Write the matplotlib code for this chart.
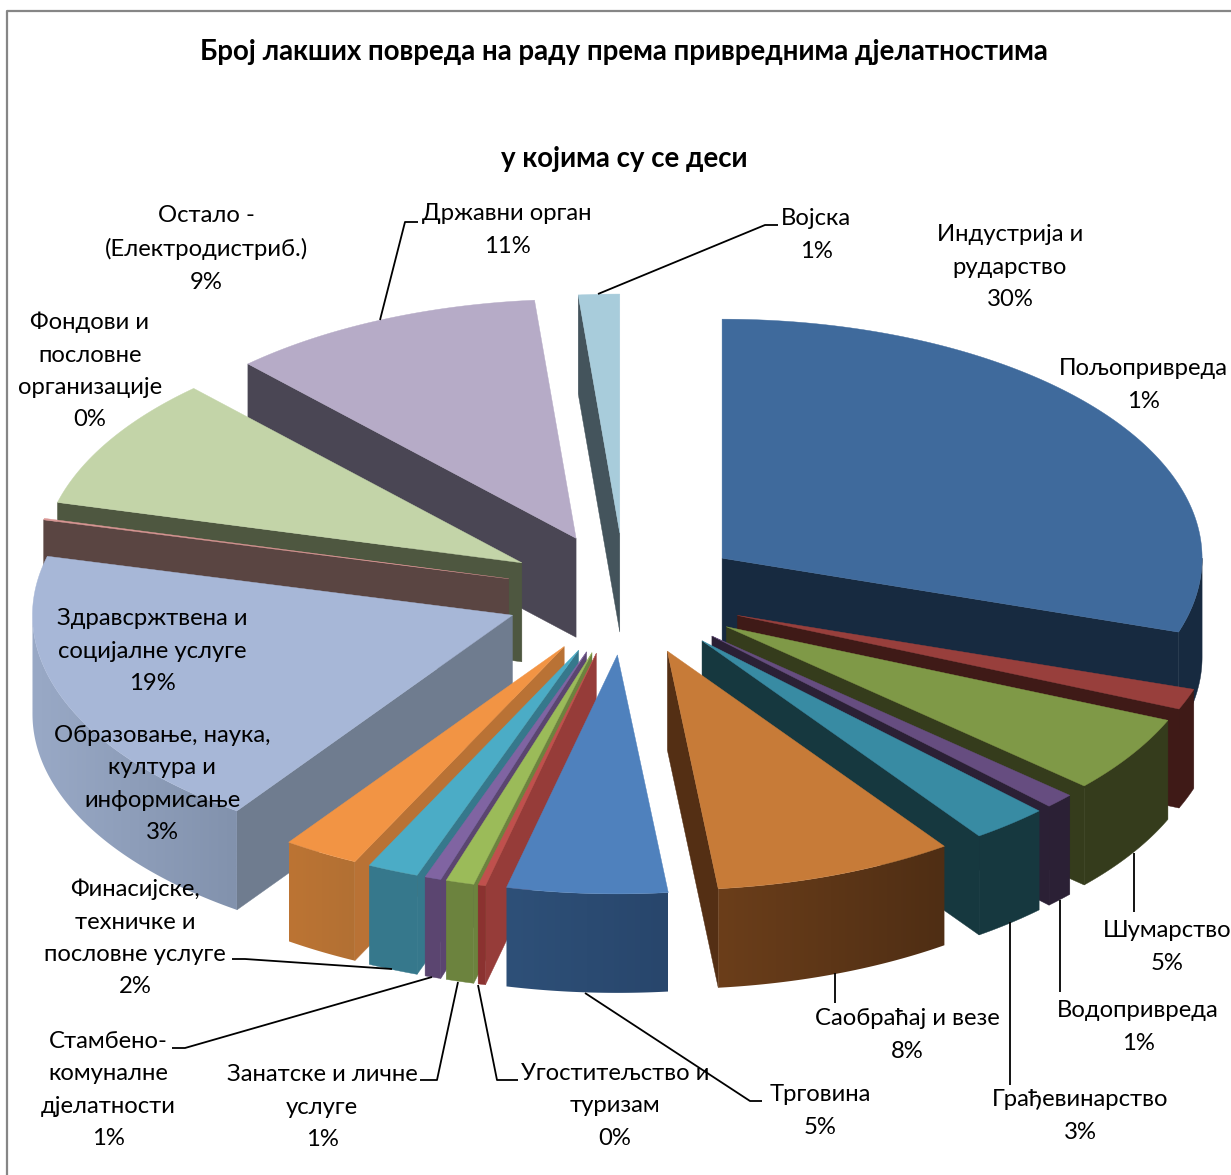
import numpy as np
import matplotlib
matplotlib.use('Agg')
import matplotlib.pyplot as plt
from matplotlib.patches import Polygon
from matplotlib.colors import to_rgb

plt.rcParams['font.family'] = ['Lato', 'Noto Sans', 'DejaVu Sans']

title_lines = ['Број лакших повреда на раду према привреднима дјелатностима',
               'у којима су се деси']

names = ['Индустрија', 'Пољопривреда', 'Шумарство', 'Водопривреда', 'Грађевинарство',
         'Саобраћај', 'Трговина', 'Угоститељство', 'Занатске', 'Стамбено', 'Финасијске',
         'Образовање', 'Здравство', 'Фондови', 'Остало', 'Државни орган', 'Војска']
shares = [30.0, 1.4, 5.2, 1.0, 2.6, 8.1, 5.4, 0.25, 0.95, 0.55, 1.72, 2.55, 19.23, 0.1, 8.95, 10.6, 1.38]

label_texts = ['Индустрија и\nрударство\n30%', 'Пољопривреда\n1%', 'Шумарство\n5%',
               'Водопривреда\n1%', 'Грађевинарство\n3%', 'Саобраћај и везе\n8%', 'Трговина\n5%',
               'Угоститељство и\nтуризам\n0%', 'Занатске и личне\nуслуге\n1%',
               'Стамбено-\nкомуналне\nдјелатности\n1%',
               'Финасијске,\nтехничке и\nпословне услуге\n2%',
               'Образовање, наука,\nкултура и\nинформисање\n3%',
               'Здравсржтвена и\nсоцијалне услуге\n19%',
               'Фондови и\nпословне\nорганизације\n0%',
               'Остало -\n(Електродистриб.)\n9%', 'Државни орган\n11%', 'Војска\n1%']
label_xy = [(1010, 267), (1143, 385), (1167, 947), (1138, 1027), (1080, 1116), (907, 1035),
            (820, 1111), (615, 1106), (322, 1107), (108, 1090), (135, 938), (162, 784),
            (152, 651), (90, 371), (206, 249), (507, 230), (816, 235)]

top_colors = ['#3F6A9C', '#983F3C', '#7F9947', '#664D80', '#388BA3', '#C77B38', '#4F81BD',
              '#C0504D', '#9BBB59', '#8064A2', '#4BACC6', '#F29444', '#A7B7D7', '#D99694',
              '#C3D4A8', '#B6ABC7', '#A8CCDB']
face_colors = ['#172A40', '#3F1A17', '#353C1C', '#2B2035', '#16383F', '#542F14', '#2D4E78',
               '#963C39', '#6C833E', '#5B4570', '#36788C', '#B97235', '#6F7C8F', '#5A4542',
               '#4E5740', '#4A4654', '#44545C']
rim_left = ['#172A40', '#3F1A17', '#353C1C', '#2B2035', '#16383F', '#6B3E1A', '#2E5078',
            '#8B3230', '#6C833E', '#5B4570', '#36788C', '#BC7434', '#99A9C6', '#5A4542',
            '#4E5740', '#4A4654', '#44545C']
rim_right = ['#172A40', '#3F1A17', '#353C1C', '#2B2035', '#16383F', '#4F2E14', '#28466C',
             '#8B3230', '#6C833E', '#5B4570', '#36788C', '#B27033', '#8292AD', '#5A4542',
             '#4E5740', '#4A4654', '#44545C']

# elbows of the leader lines
leaders = [[(598, 294), (765, 225), (778, 225)],
           [(380, 320), (405, 222), (418, 222)],
           [(585, 993), (750, 1101), (762, 1101)],
           [(478, 985), (497, 1080), (518, 1080)],
           [(458, 982), (437, 1080), (420, 1080)],
           [(432, 977), (185, 1048), (172, 1048)],
           [(392, 969), (245, 959), (232, 959)],
           [(1010, 922), (1010, 1085)],
           [(1060, 900), (1060, 992)],
           [(1134, 853), (1134, 912)],
           [(835, 973), (835, 1003)]]

cx, cy = 625, 594
rx, ry = 480, 239
ex, ey = 120, 61
depth = 99


def arc(x0, y0, a, b, n=None):
    if n is None:
        n = max(2, int((b - a) * 2) + 2)
    t = np.radians(np.linspace(a, b, n))
    return x0 + rx * np.sin(t), y0 - ry * np.cos(t)


fig = plt.figure(figsize=(12.31, 11.75), dpi=100)
ax = fig.add_axes([0, 0, 1, 1])

ax.plot([7, 7, 1231], [1175, 11, 11], color='#868686', lw=1.6)

edges = np.concatenate([[0], np.cumsum(shares)]) / np.sum(shares) * 360
mids = (edges[:-1] + edges[1:]) / 2
order = np.argsort(-np.abs(mids - 180))

for z, i in enumerate(order):
    a, b, m = edges[i], edges[i + 1], mids[i]
    x0 = cx + ex * np.sin(np.radians(m))
    y0 = cy - ey * np.cos(np.radians(m))
    xs, ys = arc(x0, y0, a, b)
    # cut faces, only the ones turned to the viewer
    for ang, seen in ((a, a > 180), (b, b < 180)):
        if seen:
            ox, oy = arc(x0, y0, ang, ang, 1)
            ax.fill([x0, ox[0], ox[0], x0], [y0, oy[0], oy[0] + depth, y0 + depth],
                    color=face_colors[i], lw=0.3, zorder=z * 3 + 1)
    # rim, front half of the ellipse
    r0, r1 = max(a, 90), min(b, 270)
    if r1 > r0:
        rxs, rys = arc(x0, y0, r0, r1)
        outline = np.column_stack([np.r_[rxs, rxs[::-1]], np.r_[rys, rys[::-1] + depth]])
        if rim_left[i] == rim_right[i]:
            ax.add_patch(Polygon(outline, color=rim_left[i], lw=0.3, zorder=z * 3 + 2))
        else:
            lo, hi = rxs.min(), rxs.max()
            grad = np.linspace(to_rgb(rim_left[i]), to_rgb(rim_right[i]), 64)[np.newaxis, :, :]
            im = ax.imshow(grad, extent=(lo, hi, rys.max() + depth, rys.min()), aspect='auto',
                           interpolation='bilinear', zorder=z * 3 + 2)
            clip = Polygon(outline, transform=ax.transData, fc='none', ec='none')
            ax.add_patch(clip)
            im.set_clip_path(clip)
    ax.fill(np.r_[x0, xs], np.r_[y0, ys], color=top_colors[i], lw=0.3, zorder=z * 3 + 3)

for pts in leaders:
    px, py = zip(*pts)
    ax.plot(px, py, color='black', lw=1.3, zorder=200, solid_capstyle='butt')

for txt, (x, y) in zip(label_texts, label_xy):
    ax.text(x, y, txt, ha='center', va='center', fontsize=17.2, color='black',
            linespacing=1.66, zorder=300)

ax.text(624, 52, title_lines[0], ha='center', va='center', fontsize=19.9, fontweight='bold', zorder=300)
ax.text(624, 159, title_lines[1], ha='center', va='center', fontsize=19.9, fontweight='bold', zorder=300)

ax.set_xlim(0, 1231)
ax.set_ylim(1175, 0)
ax.axis('off')

fig.savefig('out.png', dpi=100)
